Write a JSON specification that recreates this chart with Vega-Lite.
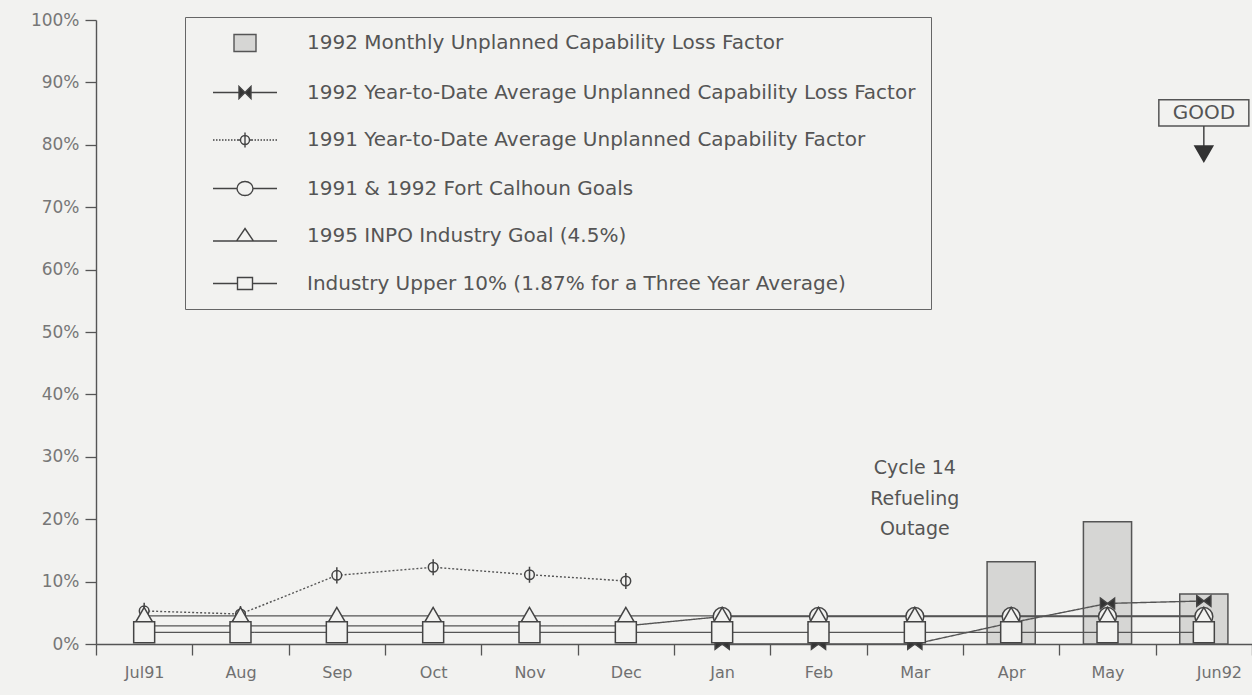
{
  "$schema": "https://vega.github.io/schema/vega-lite/v6.json",
  "width": 1156,
  "height": 624,
  "autosize": {"type": "none"},
  "padding": {"left": 96, "top": 20, "right": 0, "bottom": 51},
  "background": "#f2f2f0",
  "config": {
    "view": {"stroke": null},
    "font": "DejaVu Sans",
    "legend": {
      "orient": "none",
      "legendX": 89,
      "legendY": -3,
      "padding": 15,
      "symbolOffset": 34,
      "labelOffset": 51,
      "rowPadding": 26.5,
      "symbolSize": 400,
      "symbolStrokeColor": "#444",
      "symbolStrokeWidth": 1.4,
      "symbolOpacity": 1,
      "labelFontSize": 20,
      "labelFont": "DejaVu Sans",
      "labelColor": "#555",
      "labelLimit": 1200,
      "strokeColor": "#666",
      "cornerRadius": 0
    }
  },
  "datasets": {
    "main": [
      {"month": "Apr", "i": 9, "series": "1992 Monthly Unplanned Capability Loss Factor", "value": 13.2},
      {"month": "May", "i": 10, "series": "1992 Monthly Unplanned Capability Loss Factor", "value": 19.6},
      {"month": "Jun92", "i": 11, "series": "1992 Monthly Unplanned Capability Loss Factor", "value": 8.0},

      {"month": "Jan", "i": 6, "series": "1992 Year-to-Date Average Unplanned Capability Loss Factor", "value": 0},
      {"month": "Feb", "i": 7, "series": "1992 Year-to-Date Average Unplanned Capability Loss Factor", "value": 0},
      {"month": "Mar", "i": 8, "series": "1992 Year-to-Date Average Unplanned Capability Loss Factor", "value": 0},
      {"month": "Apr", "i": 9, "series": "1992 Year-to-Date Average Unplanned Capability Loss Factor", "value": 3.4},
      {"month": "May", "i": 10, "series": "1992 Year-to-Date Average Unplanned Capability Loss Factor", "value": 6.5},
      {"month": "Jun92", "i": 11, "series": "1992 Year-to-Date Average Unplanned Capability Loss Factor", "value": 6.9},

      {"month": "Jul91", "i": 0, "series": "1991 Year-to-Date Average Unplanned Capability Factor", "value": 5.3},
      {"month": "Aug", "i": 1, "series": "1991 Year-to-Date Average Unplanned Capability Factor", "value": 4.8},
      {"month": "Sep", "i": 2, "series": "1991 Year-to-Date Average Unplanned Capability Factor", "value": 11.0},
      {"month": "Oct", "i": 3, "series": "1991 Year-to-Date Average Unplanned Capability Factor", "value": 12.3},
      {"month": "Nov", "i": 4, "series": "1991 Year-to-Date Average Unplanned Capability Factor", "value": 11.1},
      {"month": "Dec", "i": 5, "series": "1991 Year-to-Date Average Unplanned Capability Factor", "value": 10.1},

      {"month": "Jul91", "i": 0, "series": "1991 & 1992 Fort Calhoun Goals", "value": 2.9},
      {"month": "Aug", "i": 1, "series": "1991 & 1992 Fort Calhoun Goals", "value": 2.9},
      {"month": "Sep", "i": 2, "series": "1991 & 1992 Fort Calhoun Goals", "value": 2.9},
      {"month": "Oct", "i": 3, "series": "1991 & 1992 Fort Calhoun Goals", "value": 2.9},
      {"month": "Nov", "i": 4, "series": "1991 & 1992 Fort Calhoun Goals", "value": 2.9},
      {"month": "Dec", "i": 5, "series": "1991 & 1992 Fort Calhoun Goals", "value": 2.9},
      {"month": "Jan", "i": 6, "series": "1991 & 1992 Fort Calhoun Goals", "value": 4.4},
      {"month": "Feb", "i": 7, "series": "1991 & 1992 Fort Calhoun Goals", "value": 4.4},
      {"month": "Mar", "i": 8, "series": "1991 & 1992 Fort Calhoun Goals", "value": 4.4},
      {"month": "Apr", "i": 9, "series": "1991 & 1992 Fort Calhoun Goals", "value": 4.4},
      {"month": "May", "i": 10, "series": "1991 & 1992 Fort Calhoun Goals", "value": 4.4},
      {"month": "Jun92", "i": 11, "series": "1991 & 1992 Fort Calhoun Goals", "value": 4.4},

      {"month": "Jul91", "i": 0, "series": "1995 INPO Industry Goal (4.5%)", "value": 4.5},
      {"month": "Aug", "i": 1, "series": "1995 INPO Industry Goal (4.5%)", "value": 4.5},
      {"month": "Sep", "i": 2, "series": "1995 INPO Industry Goal (4.5%)", "value": 4.5},
      {"month": "Oct", "i": 3, "series": "1995 INPO Industry Goal (4.5%)", "value": 4.5},
      {"month": "Nov", "i": 4, "series": "1995 INPO Industry Goal (4.5%)", "value": 4.5},
      {"month": "Dec", "i": 5, "series": "1995 INPO Industry Goal (4.5%)", "value": 4.5},
      {"month": "Jan", "i": 6, "series": "1995 INPO Industry Goal (4.5%)", "value": 4.5},
      {"month": "Feb", "i": 7, "series": "1995 INPO Industry Goal (4.5%)", "value": 4.5},
      {"month": "Mar", "i": 8, "series": "1995 INPO Industry Goal (4.5%)", "value": 4.5},
      {"month": "Apr", "i": 9, "series": "1995 INPO Industry Goal (4.5%)", "value": 4.5},
      {"month": "May", "i": 10, "series": "1995 INPO Industry Goal (4.5%)", "value": 4.5},
      {"month": "Jun92", "i": 11, "series": "1995 INPO Industry Goal (4.5%)", "value": 4.5},

      {"month": "Jul91", "i": 0, "series": "Industry Upper 10% (1.87% for a Three Year Average)", "value": 1.87},
      {"month": "Aug", "i": 1, "series": "Industry Upper 10% (1.87% for a Three Year Average)", "value": 1.87},
      {"month": "Sep", "i": 2, "series": "Industry Upper 10% (1.87% for a Three Year Average)", "value": 1.87},
      {"month": "Oct", "i": 3, "series": "Industry Upper 10% (1.87% for a Three Year Average)", "value": 1.87},
      {"month": "Nov", "i": 4, "series": "Industry Upper 10% (1.87% for a Three Year Average)", "value": 1.87},
      {"month": "Dec", "i": 5, "series": "Industry Upper 10% (1.87% for a Three Year Average)", "value": 1.87},
      {"month": "Jan", "i": 6, "series": "Industry Upper 10% (1.87% for a Three Year Average)", "value": 1.87},
      {"month": "Feb", "i": 7, "series": "Industry Upper 10% (1.87% for a Three Year Average)", "value": 1.87},
      {"month": "Mar", "i": 8, "series": "Industry Upper 10% (1.87% for a Three Year Average)", "value": 1.87},
      {"month": "Apr", "i": 9, "series": "Industry Upper 10% (1.87% for a Three Year Average)", "value": 1.87},
      {"month": "May", "i": 10, "series": "Industry Upper 10% (1.87% for a Three Year Average)", "value": 1.87},
      {"month": "Jun92", "i": 11, "series": "Industry Upper 10% (1.87% for a Three Year Average)", "value": 1.87}
    ]
  },
  "data": {"name": "main"},
  "encoding": {
    "x": {
      "field": "month",
      "type": "nominal",
      "sort": ["Jul91", "Aug", "Sep", "Oct", "Nov", "Dec", "Jan", "Feb", "Mar", "Apr", "May", "Jun92"],
      "scale": {"domain": ["Jul91", "Aug", "Sep", "Oct", "Nov", "Dec", "Jan", "Feb", "Mar", "Apr", "May", "Jun92"], "paddingInner": 0, "paddingOuter": 0},
      "axis": {
        "title": null,
        "tickBand": "extent",
        "tickSize": 11,
        "tickWidth": 1.3,
        "tickColor": "#555",
        "domainColor": "#555",
        "domainWidth": 1.4,
        "labelAngle": 0,
        "labelPadding": 9,
        "labelFontSize": 16,
        "labelFont": "DejaVu Sans",
        "labelColor": "#707070",
        "labelOffset": {"condition": {"test": "datum.value === 'Jun92'", "value": 15}, "value": 0}
      }
    },
    "y": {
      "field": "value",
      "type": "quantitative",
      "scale": {"domain": [0, 100], "nice": false},
      "axis": {
        "title": null,
        "grid": false,
        "values": [0, 10, 20, 30, 40, 50, 60, 70, 80, 90, 100],
        "labelExpr": "datum.value + '%'",
        "tickSize": 11,
        "tickWidth": 1.3,
        "tickColor": "#555",
        "domainColor": "#555",
        "domainWidth": 1.4,
        "labelPadding": 6,
        "labelFontSize": 17,
        "labelFont": "DejaVu Sans",
        "labelColor": "#777"
      }
    }
  },
  "layer": [
    {
      "transform": [{"filter": "datum.series === '1992 Monthly Unplanned Capability Loss Factor'"}],
      "mark": {"type": "bar", "width": {"band": 0.5}, "fill": "#d6d6d4", "stroke": "#555", "strokeWidth": 1.5}
    },
    {
      "transform": [{"filter": "datum.series !== '1992 Monthly Unplanned Capability Loss Factor'"}],
      "mark": {"type": "line", "stroke": "#555", "strokeWidth": 1.4},
      "encoding": {
        "detail": {"field": "series"},
        "order": {"field": "i", "type": "quantitative"},
        "strokeDash": {
          "field": "series",
          "scale": {
            "domain": ["1992 Year-to-Date Average Unplanned Capability Loss Factor", "1991 Year-to-Date Average Unplanned Capability Factor", "1991 & 1992 Fort Calhoun Goals", "1995 INPO Industry Goal (4.5%)", "Industry Upper 10% (1.87% for a Three Year Average)"],
            "range": [[1, 0], [2, 2], [1, 0], [1, 0], [1, 0]]
          },
          "legend": null
        }
      }
    },
    {
      "transform": [{"filter": "datum.series !== '1992 Monthly Unplanned Capability Loss Factor'"}],
      "mark": {"type": "point", "stroke": "#444", "strokeWidth": 1.5, "opacity": 1},
      "encoding": {
        "shape": {
          "field": "series",
          "scale": {
            "domain": ["1992 Year-to-Date Average Unplanned Capability Loss Factor", "1991 Year-to-Date Average Unplanned Capability Factor", "1991 & 1992 Fort Calhoun Goals", "1995 INPO Industry Goal (4.5%)", "Industry Upper 10% (1.87% for a Three Year Average)"],
            "range": ["M-1,-0.75L1,0.75V-0.75L-1,0.75Z", "M0,-1V1M-0.6,0A0.6,0.6 0 1,1 0.6,0A0.6,0.6 0 1,1 -0.6,0Z", "circle", "triangle-up", "square"]
          },
          "legend": null
        },
        "fill": {
          "field": "series",
          "scale": {
            "domain": ["1992 Year-to-Date Average Unplanned Capability Loss Factor", "1991 Year-to-Date Average Unplanned Capability Factor", "1991 & 1992 Fort Calhoun Goals", "1995 INPO Industry Goal (4.5%)", "Industry Upper 10% (1.87% for a Three Year Average)"],
            "range": ["#333333", "#f2f2f0", "#f2f2f0", "#f2f2f0", "#f2f2f0"]
          },
          "legend": null
        },
        "size": {
          "field": "series",
          "scale": {
            "domain": ["1992 Year-to-Date Average Unplanned Capability Loss Factor", "1991 Year-to-Date Average Unplanned Capability Factor", "1991 & 1992 Fort Calhoun Goals", "1995 INPO Industry Goal (4.5%)", "Industry Upper 10% (1.87% for a Three Year Average)"],
            "range": [200, 440, 361, 361, 256]
          },
          "legend": null
        }
      }
    },
    {
      "transform": [{"filter": "false"}],
      "mark": {"type": "point", "stroke": "#444", "strokeWidth": 1.4},
      "encoding": {
        "shape": {
          "field": "series",
          "scale": {
            "domain": ["1992 Monthly Unplanned Capability Loss Factor", "1992 Year-to-Date Average Unplanned Capability Loss Factor", "1991 Year-to-Date Average Unplanned Capability Factor", "1991 & 1992 Fort Calhoun Goals", "1995 INPO Industry Goal (4.5%)", "Industry Upper 10% (1.87% for a Three Year Average)"],
            "range": [
              "M-1.1,-0.85H1.1V0.85H-1.1Z",
              "M-3.2,0H-0.6M0.6,0H3.2M-0.6,-0.6L0.6,0.6V-0.6L-0.6,0.6Z",
              "M-3.2,0H-3.05M-2.9,0H-2.75M-2.6,0H-2.45M-2.3,0H-2.15M-2,0H-1.85M-1.7,0H-1.55M-1.4,0H-1.25M-1.1,0H-0.95M-0.8,0H-0.45M0,-0.75V0.75M-0.45,0A0.45,0.45 0 1,1 0.45,0A0.45,0.45 0 1,1 -0.45,0ZM0.45,0H0.8M0.95,0H1.1M1.25,0H1.4M1.55,0H1.7M1.85,0H2M2.15,0H2.3M2.45,0H2.6M2.75,0H2.9M3.05,0H3.2",
              "M-3.2,0H-0.8M0.8,0H3.2M-0.8,0A0.8,0.7 0 1,1 0.8,0A0.8,0.7 0 1,1 -0.8,0Z",
              "M-3.2,0.5H-0.85M0.85,0.5H3.2M0,-0.75L0.85,0.5H-0.85Z",
              "M-3.2,0H-0.75M0.75,0H3.2M-0.75,-0.6H0.75V0.6H-0.75Z"
            ]
          },
          "legend": {"title": null, "labelExpr": "datum.label + '\u00a0\u00a0\u00a0\u00a0\u00a0\u00a0\u00a0\u00a0\u00a0\u00a0\u00a0\u00a0\u00a0\u00a0\u00a0\u00a0\u00a0\u00a0\u00a0\u00a0\u00a0\u00a0'"}
        },
        "fill": {
          "field": "series",
          "scale": {
            "domain": ["1992 Monthly Unplanned Capability Loss Factor", "1992 Year-to-Date Average Unplanned Capability Loss Factor", "1991 Year-to-Date Average Unplanned Capability Factor", "1991 & 1992 Fort Calhoun Goals", "1995 INPO Industry Goal (4.5%)", "Industry Upper 10% (1.87% for a Three Year Average)"],
            "range": ["#d6d6d4", "#333333", "#f2f2f0", "#f2f2f0", "#f2f2f0", "#f2f2f0"]
          },
          "legend": {"title": null, "labelExpr": "datum.label + '\u00a0\u00a0\u00a0\u00a0\u00a0\u00a0\u00a0\u00a0\u00a0\u00a0\u00a0\u00a0\u00a0\u00a0\u00a0\u00a0\u00a0\u00a0\u00a0\u00a0\u00a0\u00a0'"}
        },
        "stroke": {
          "field": "series",
          "scale": {
            "domain": ["1992 Monthly Unplanned Capability Loss Factor", "1992 Year-to-Date Average Unplanned Capability Loss Factor", "1991 Year-to-Date Average Unplanned Capability Factor", "1991 & 1992 Fort Calhoun Goals", "1995 INPO Industry Goal (4.5%)", "Industry Upper 10% (1.87% for a Three Year Average)"],
            "range": ["#555555", "#444444", "#444444", "#444444", "#444444", "#444444"]
          },
          "legend": {"title": null, "labelExpr": "datum.label + '\u00a0\u00a0\u00a0\u00a0\u00a0\u00a0\u00a0\u00a0\u00a0\u00a0\u00a0\u00a0\u00a0\u00a0\u00a0\u00a0\u00a0\u00a0\u00a0\u00a0\u00a0\u00a0'"}
        }
      }
    },
    {
      "data": {"values": [{"month": "Mar", "value": 28.2, "label": "Cycle 14\nRefueling\nOutage"}]},
      "mark": {"type": "text", "lineBreak": "\n", "lineHeight": 30.5, "fontSize": 19, "font": "DejaVu Sans", "color": "#555", "align": "center", "baseline": "middle"},
      "encoding": {"text": {"field": "label"}}
    },
    {
      "data": {"values": [{"month": "Jun92", "lo": 83.0, "hi": 87.2}]},
      "mark": {"type": "bar", "width": 90, "fill": "#f2f2f0", "stroke": "#555", "strokeWidth": 1.5},
      "encoding": {"y": {"field": "lo", "type": "quantitative"}, "y2": {"field": "hi"}}
    },
    {
      "data": {"values": [{"month": "Jun92", "value": 85.1, "label": "GOOD"}]},
      "mark": {"type": "text", "fontSize": 20, "font": "DejaVu Sans", "color": "#555", "align": "center", "baseline": "middle"},
      "encoding": {"text": {"field": "label"}}
    },
    {
      "data": {"values": [{"month": "Jun92", "lo": 79.5, "hi": 83.0}]},
      "mark": {"type": "rule", "stroke": "#444", "strokeWidth": 1.5},
      "encoding": {"y": {"field": "lo", "type": "quantitative"}, "y2": {"field": "hi"}}
    },
    {
      "data": {"values": [{"month": "Jun92", "value": 78.6}]},
      "mark": {"type": "point", "shape": "triangle-down", "size": 289, "filled": true, "fill": "#333", "stroke": "#333", "opacity": 1}
    }
  ],
  "resolve": {"scale": {"shape": "independent", "fill": "independent", "size": "independent", "stroke": "independent"}}
}
